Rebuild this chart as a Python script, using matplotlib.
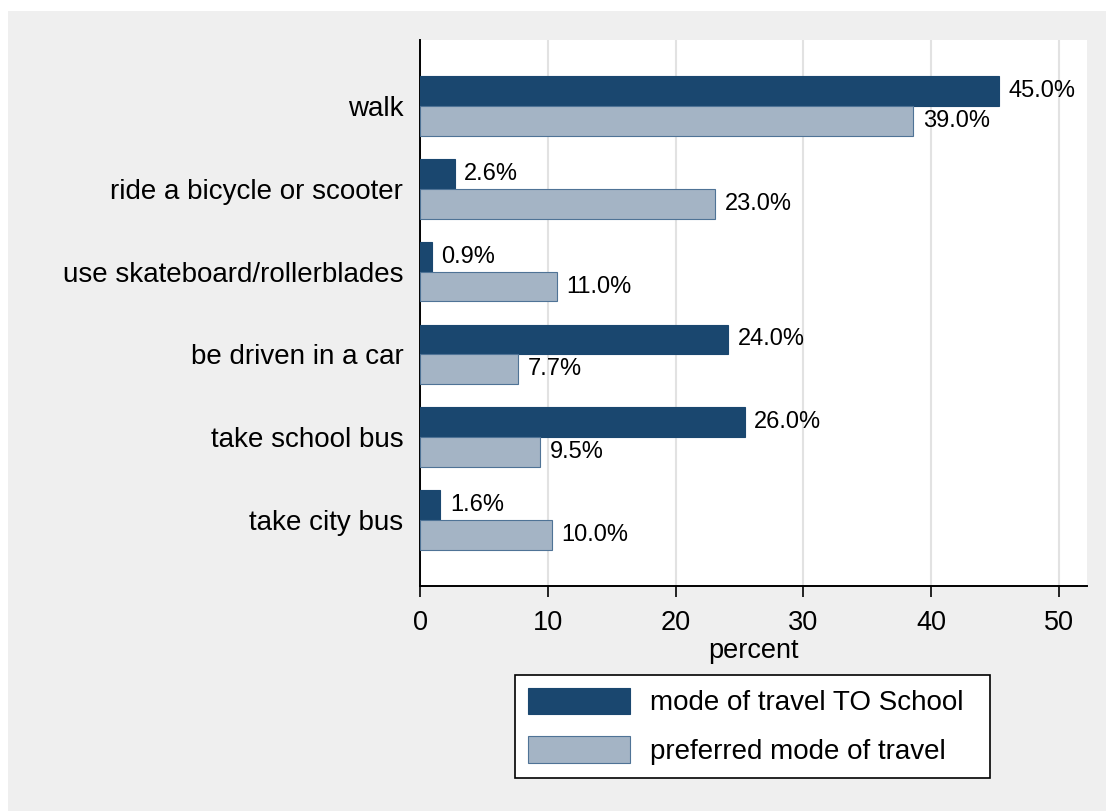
import matplotlib
matplotlib.use("Agg")
import matplotlib.pyplot as plt
from matplotlib.patches import Rectangle
import numpy as np

plt.rcParams["font.family"] = ["Liberation Sans", "DejaVu Sans"]

categories = ["walk", "ride a bicycle or scooter", "use skateboard/rollerblades",
              "be driven in a car", "take school bus", "take city bus"]
to_school = [45.3, 2.7, 0.9, 24.1, 25.4, 1.6]
preferred = [38.6, 23.1, 10.7, 7.7, 9.4, 10.3]
to_school_labels = ["45.0%", "2.6%", "0.9%", "24.0%", "26.0%", "1.6%"]
preferred_labels = ["39.0%", "23.0%", "11.0%", "7.7%", "9.5%", "10.0%"]
series_names = ["mode of travel TO School", "preferred mode of travel"]
xticks = [0, 10, 20, 30, 40, 50]

DARK, LIGHT, LIGHT_EDGE = "#1A476F", "#A4B4C5", "#4F7396"
BG = "#EFEFEF"

W, H = 1106, 811
fig = plt.figure(figsize=(W / 100, H / 100), dpi=100, facecolor="white")
# grey graph region, white strip on top/left like the source export
fig.patches.append(Rectangle((8 / W, -0.01), 1.01, 1.01 - 11 / H, transform=fig.transFigure,
                             facecolor=BG, edgecolor="none", zorder=-10))
ax = fig.add_axes([420 / W, 1 - 586 / H, (1087 - 420) / W, (586 - 40) / H])
ax.set_facecolor("white")

y = np.arange(len(categories))
h = 0.36
b1 = ax.barh(y - h / 2, to_school, height=h, color=DARK, edgecolor=DARK, lw=0.8, zorder=3)
b2 = ax.barh(y + h / 2, preferred, height=h, color=LIGHT, edgecolor=LIGHT_EDGE, lw=0.8, zorder=3)

for bars, labs in ((b1, to_school_labels), (b2, preferred_labels)):
    for r, t in zip(bars, labs):
        ax.text(r.get_width() + 0.75, r.get_y() + r.get_height() / 2, t,
                va="center", ha="left", fontsize=17)

ax.set_ylim(len(categories) - 1 + 0.8, -0.8)
ax.set_xlim(0, 52.2)
ax.set_yticks(y)
ax.set_yticklabels(categories, fontsize=20)
ax.tick_params(axis="y", length=0, pad=12)
ax.set_xticks(xticks)
ax.tick_params(axis="x", labelsize=19.5, length=8, width=1.2, pad=9)
ax.set_xlabel("percent", fontsize=19.5, labelpad=2)
ax.xaxis.grid(True, color="#E2E2E2", lw=1.5, zorder=0)
for s in ("top", "right"):
    ax.spines[s].set_visible(False)
for s in ("left", "bottom"):
    ax.spines[s].set_linewidth(1.4)

leg = fig.legend([b1, b2], series_names, loc="upper left", mode="expand",
                 bbox_to_anchor=(515 / W, 0, 475 / W, 1 - 675 / H), fontsize=20,
                 handlelength=3.7, handleheight=1.1, handletextpad=0.7,
                 labelspacing=0.72, borderpad=0.45, borderaxespad=0, fancybox=False,
                 edgecolor="black", framealpha=1)
leg.get_frame().set_linewidth(1.2)

fig.savefig("out.png", dpi=100, facecolor=fig.get_facecolor())
